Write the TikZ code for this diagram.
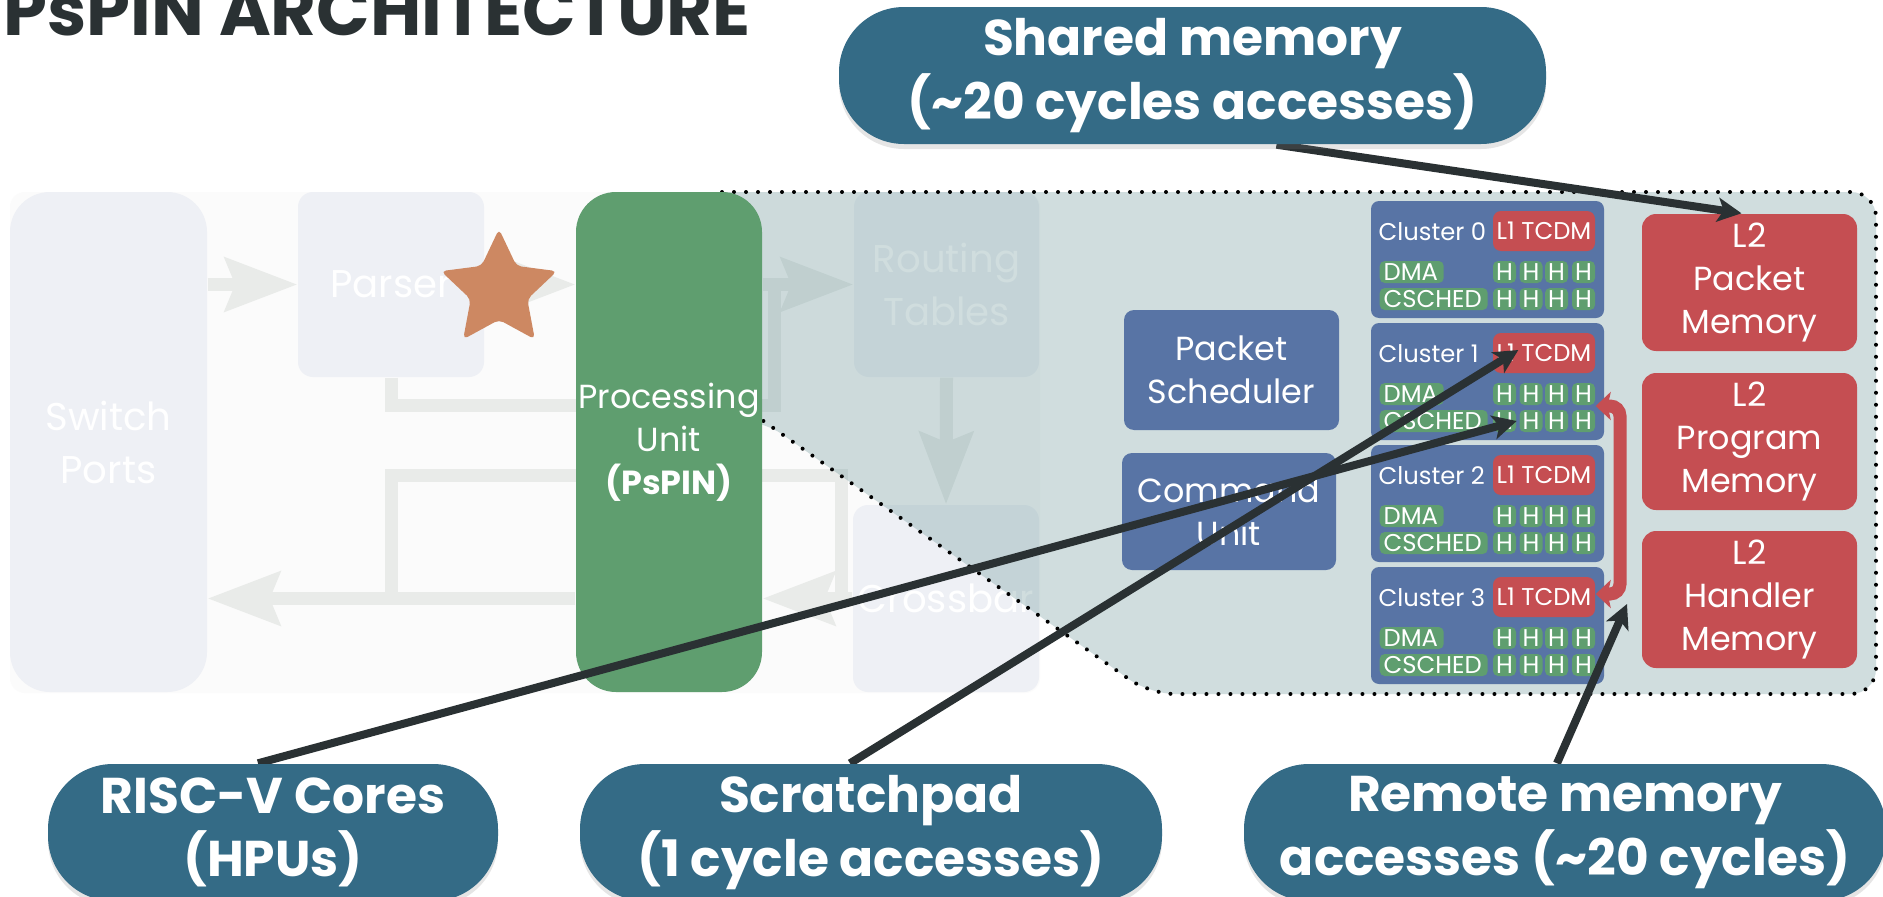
\documentclass[tikz,border=0pt]{standalone}
\usepackage{fontspec}
\setmainfont{Poppins}
\usepackage{tikz}
\usetikzlibrary{arrows.meta,positioning,calc,shapes.geometric,shadows}

\definecolor{inkDark}{RGB}{42,49,51}
\definecolor{pspinGreen}{RGB}{95,158,111}
\definecolor{pspinBlue}{RGB}{88,116,165}
\definecolor{pspinRed}{RGB}{197,78,82}
\definecolor{calloutTeal}{RGB}{52,107,134}
\definecolor{zoomTeal}{RGB}{100,145,148}
\definecolor{fadeBox}{RGB}{238,240,245}
\definecolor{fadeArrow}{RGB}{233,235,233}
\definecolor{fadeBg}{RGB}{251,251,251}
\definecolor{starOrange}{RGB}{205,136,98}

\newcommand\archtitlefont{\fontsize{20}{24}\selectfont\bfseries}
\newcommand\callfont{\fontsize{14.3}{18}\selectfont\bfseries}
\newcommand\blkfont{\fontsize{9.5}{12.2}\selectfont}
\newcommand\fadefont{\fontsize{11}{15.1}\selectfont}
\newcommand\clfont{\fontsize{6.9}{8}\selectfont}

\pgfdeclarelayer{back}
\pgfdeclarelayer{mid}
\pgfdeclarelayer{front}
\pgfsetlayers{back,mid,main,front}

\tikzset{
  >=Stealth,
  every node/.append style={inner sep=0pt, text=white},
}
\tikzset{
  fadebox/.style={fill=fadeBox, align=center, font=\fadefont},
  blkbox/.style={fill=pspinBlue, rounded corners=1mm, align=center, font=\blkfont},
  l2box/.style={fill=pspinRed, rounded corners=1.4mm, align=center, font=\blkfont,
    minimum width=21.5mm, minimum height=13.7mm},
  callout/.style={fill=calloutTeal, rounded corners=6.5mm, minimum height=13.7mm,
    align=center, font=\callfont,
    drop shadow={shadow xshift=0mm, shadow yshift=-0.5mm, opacity=0.2}},
  fadearrow/.style={draw=fadeArrow, line width=1.3mm, -{Stealth[length=7.2mm,width=5.3mm,inset=1mm]}},
  fadeline/.style={draw=fadeArrow, line width=1.3mm},
  callarrow/.style={draw=inkDark, line width=0.8mm, -{Stealth[length=2.4mm,width=2.4mm,inset=0.6mm]}}
}

\begin{document}
\begin{tikzpicture}[x=0.1mm, y=-0.1mm,
  clbox/.style={fill=pspinBlue, rounded corners=0.8mm, minimum width=23.3mm, minimum height=11.7mm},
  tcdmbox/.style={fill=pspinRed, rounded corners=0.8mm, minimum width=10.2mm, minimum height=4mm, font=\clfont},
  hbox/.style={fill=pspinGreen, rounded corners=0.5mm, minimum height=2.2mm,
    text height=1.7mm, text depth=0pt, font=\clfont},
  redbus/.style={draw=pspinRed, line width=1.3mm, rounded corners=1mm,
    {Stealth[length=1.5mm,width=2.8mm,inset=0.3mm]}-{Stealth[length=1.5mm,width=2.8mm,inset=0.3mm]}},
  zoomline/.style={draw=black, line width=0.4mm, line cap=round, dash pattern=on 0mm off 1.2mm}
]
\useasboundingbox (0,0) rectangle (1883,897);

\begin{pgfonlayer}{back}
\fill[white] (0,0) rectangle (1883,897);
\fill[fadeBg, rounded corners=1.5mm] (10,192) rectangle (1040,693);
\node[fadebox, rounded corners=4mm, minimum width=19.7mm, minimum height=50mm] (ports) at (108.5,442) {Switch\\Ports};
\node[fadebox, rounded corners=1.5mm, minimum width=18.6mm, minimum height=18.5mm] (parser) at (391,284.5) {Parser};
\node[fadebox, rounded corners=1.5mm, minimum width=18.5mm, minimum height=18.5mm] (routing) at (946.5,284.5) {Routing\\Tables};
\node[fadebox, rounded corners=1.5mm, minimum width=18.6mm, minimum height=18.7mm] (xbar) at (946,598.5) {Crossbar};
\end{pgfonlayer}

\node[anchor=base west, font=\archtitlefont, text=inkDark] (title) at (3,35) {PsPIN ARCHITECTURE};

\node[fill=pspinGreen, rounded corners=4mm, minimum width=18.6mm, minimum height=50mm,
      align=center, font=\blkfont] (pu) at (669,442) {Processing\\Unit\\\textbf{(PsPIN)}};

% faded switch pipeline
\begin{pgfonlayer}{back}
\coordinate (upby) at (774,405.5);
\coordinate (lowL) at (391,475);
\coordinate (lowR) at (841,475);
\draw[fadeline] (parser.south) |- (upby) -- (upby |- routing);
\draw[fadeline] (lowL |- xbar) -- (lowL) -- (lowR) -- (lowR |- xbar);
\draw[fadearrow] (ports.east |- parser) -- (parser.west);
\draw[fadearrow] (parser.east) -- (pu.west |- parser);
\draw[fadearrow] (pu.east |- routing) -- (routing.west);
\draw[fadearrow] (routing.south) -- (xbar.north);
\draw[fadearrow] (xbar.west) -- (pu.east |- xbar);
\draw[fadearrow] (pu.west |- xbar) -- (ports.east |- xbar);
\end{pgfonlayer}

\node[star, star points=5, star point ratio=2.05, minimum size=12.2mm, fill=starOrange,
      rounded corners=0.5mm] (mark) at (499,290) {};

\begin{pgfonlayer}{mid}
\fill[zoomTeal, opacity=0.3, rounded corners=2.5mm] (722,192) -- (1876,192) -- (1876,694)
  -- (1150,694) -- (762,420) -- (700,420) -- (700,192) -- cycle;
\draw[zoomline, rounded corners=2.5mm] (722,192) -- (1876,192) -- (1876,694) -- (1150,694) -- (762,420);
\end{pgfonlayer}

\node[blkbox, minimum width=21.5mm, minimum height=12mm] (sched) at (1231.5,370) {Packet\\Scheduler};
\node[blkbox, minimum width=21.4mm, minimum height=11.7mm] (cmd) at (1229,511.5) {Command\\Unit};

\foreach \i in {0,...,3}{
  \pgfmathsetmacro{\ty}{201+122*\i}
  \node[clbox] (cl\i) at (1487.5,\ty+58.5) {};
  \node[anchor=base west, font=\clfont] (cln\i) at (1378,\ty+39) {Cluster \i};
  \node[tcdmbox] (tcdm\i) at (1544,\ty+30) {L1 TCDM};
  \node[hbox, anchor=west, text width=5.6mm, align=left, inner xsep=0.4mm] (dma\i) at (1379,\ty+71) {DMA};
  \node[hbox, anchor=west, text width=10mm, align=left, inner xsep=0.4mm] (csch\i) at (1379,\ty+98) {CSCHED};
  \foreach \hx [count=\c] in {1504.5,1531,1556.5,1583.5}{
    \node[hbox, minimum width=2.3mm] (hA\i\c) at (\hx,\ty+71) {H};
    \node[hbox, minimum width=2.3mm] (hB\i\c) at (\hx,\ty+98) {H};
  }
}

\node[l2box] (l2pkt)  at (1749.5,282.5) {L2\\Packet\\Memory};
\node[l2box] (l2prog) at (1749.5,441.5) {L2\\Program\\Memory};
\node[l2box] (l2hdl)  at (1749.5,599.5) {L2\\Handler\\Memory};

\coordinate (busTop) at (1620,406);
\coordinate (busBot) at (1620,594);
\draw[redbus] (tcdm1.east |- busTop) -- (busTop) -- (busBot) -- (tcdm3.east |- busBot);

\begin{pgfonlayer}{front}
\node[callout, minimum width=70.7mm] (shared) at (1192.5,75.5) {Shared memory\\(\textasciitilde20 cycles accesses)};
\node[callout, minimum width=45mm] (riscv) at (273,832.5) {RISC-V Cores\\(HPUs)};
\node[callout, minimum width=58.2mm] (scratch) at (871,832.5) {Scratchpad\\(1 cycle accesses)};
\node[callout, minimum width=64.2mm] (remote) at (1565,832.5) {Remote memory\\accesses (\textasciitilde20 cycles)};
\end{pgfonlayer}

\coordinate (remoteTip) at (1627,604);
\draw[callarrow] ([xshift=8.4mm]shared.south) -- ([xshift=-0.8mm]l2pkt.north);
\draw[callarrow] ([xshift=-1.5mm]riscv.north) -- (hB11.east);
\draw[callarrow] ([xshift=-2.1mm]scratch.north) -- ([xshift=2.6mm,yshift=0.3mm]tcdm1.west);
\draw[callarrow] ([xshift=-0.8mm]remote.north) -- (remoteTip);

\end{tikzpicture}
\end{document}
